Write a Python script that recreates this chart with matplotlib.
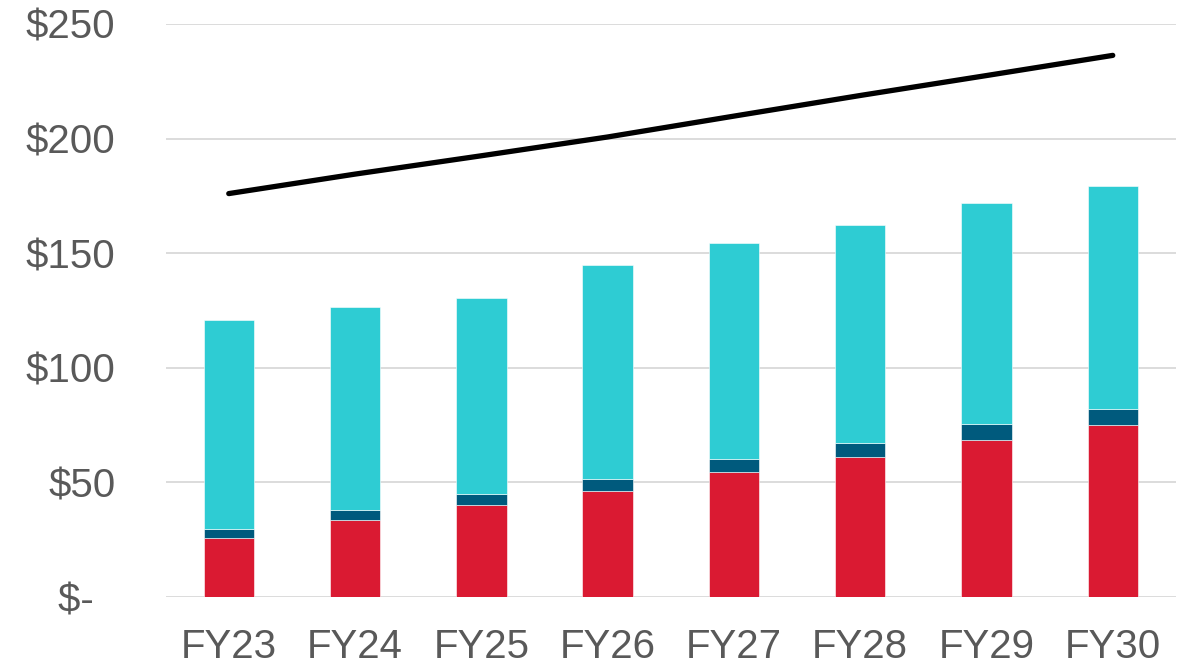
import matplotlib.pyplot as plt
import numpy as np

plt.rcParams['font.family'] = ['Liberation Sans', 'DejaVu Sans']

years = ['FY23', 'FY24', 'FY25', 'FY26', 'FY27', 'FY28', 'FY29', 'FY30']
red_vals = [25.6, 33.6, 40.0, 46.3, 54.4, 60.9, 68.7, 75.1]
navy_vals = [4.2, 4.5, 4.9, 5.4, 5.8, 6.1, 6.8, 7.0]
cyan_vals = [90.9, 88.5, 85.7, 93.3, 94.4, 95.3, 96.3, 97.4]
line_vals = [176.0, 184.5, 192.5, 200.7, 209.8, 218.8, 227.5, 236.3]
y_ticks = [0, 50, 100, 150, 200, 250]
y_labels = ['$-  ', '$50', '$100', '$150', '$200', '$250']

fig = plt.figure(figsize=(11.83, 6.66), dpi=100)
ax = fig.add_axes([0.14, 0.1036, 0.854, 0.8604])

x = np.arange(len(years))
red = np.array(red_vals)
navy = np.array(navy_vals)
cyan = np.array(cyan_vals)

bar_kw = dict(width=0.4, edgecolor='white', linewidth=0.4, zorder=3)
ax.bar(x, red, color='#DA1A32', **bar_kw)
ax.bar(x, navy, bottom=red, color='#005A7D', **bar_kw)
ax.bar(x, cyan, bottom=red + navy, color='#2ECCD3', **bar_kw)
ax.plot(x, line_vals, color='black', linewidth=3.8, solid_capstyle='round', zorder=4)

ax.set_xlim(-0.5, len(years) - 0.5)
ax.set_ylim(0, 250)
ax.set_yticks(y_ticks)
ax.set_yticklabels(y_labels)
ax.set_xticks(x)
ax.set_xticklabels(years)

ax.grid(axis='y', color='#D9D9D9', linewidth=1.3, zorder=0)
ax.tick_params(axis='both', length=0, labelsize=29, colors='#595959')
ax.tick_params(axis='y', pad=36)
ax.tick_params(axis='x', pad=22)
for s in ax.spines.values():
    s.set_visible(False)

fig.savefig('out.png', dpi=100)
